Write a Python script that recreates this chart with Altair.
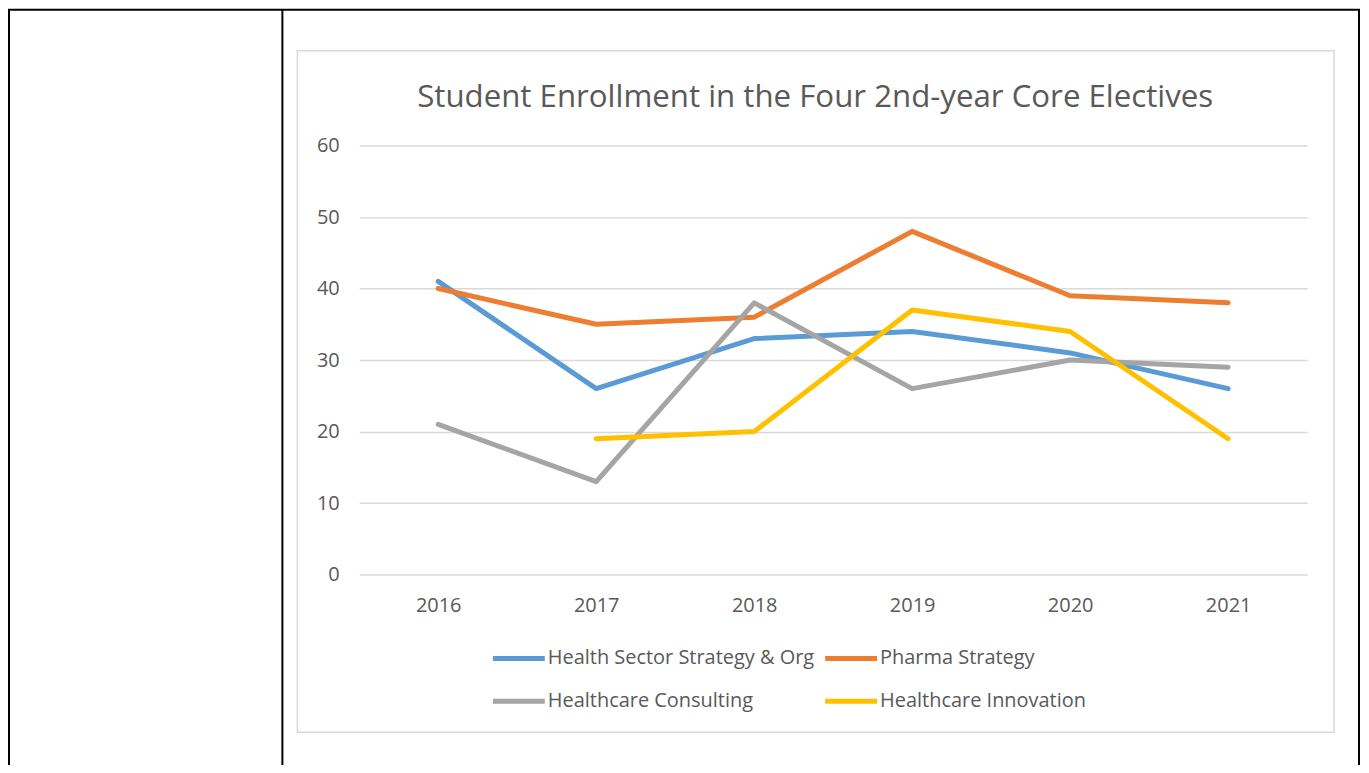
import altair as alt
import pandas as pd

years = ["2016", "2017", "2018", "2019", "2020", "2021"]
series_names = [
    "Health Sector Strategy & Org",
    "Pharma Strategy",
    "Healthcare Consulting",
    "Healthcare Innovation",
]
health_sector = [41, 26, 33, 34, 31, 26]
pharma = [40, 35, 36, 48, 39, 38]
consulting = [21, 13, 38, 26, 30, 29]
innovation = [None, 19, 20, 37, 34, 19]
colors = ["#5B9BD5", "#ED7D31", "#A5A5A5", "#FFC000"]
y_ticks = [0, 10, 20, 30, 40, 50, 60]
title_text = "Student Enrollment in the Four 2nd-year Core Electives"

rows = []
for name, vals in zip(series_names, [health_sector, pharma, consulting, innovation]):
    for yr, v in zip(years, vals):
        if v is not None:
            rows.append({"Year": yr, "Course": name, "Students": v})
df = pd.DataFrame(rows)

FONT = "Open Sans"
TXT = "#595959"
GRID = "#D9D9D9"

one = pd.DataFrame({"t": [title_text]})

# decorative frame (page/table borders and the chart box)
chart_box = alt.Chart(one).mark_rect(fill="transparent", stroke=GRID, strokeWidth=1.5).encode(
    x=alt.value(-62), x2=alt.value(977), y=alt.value(-95), y2=alt.value(588)
)
frame_left = alt.Chart(one).mark_rule(color="black", strokeWidth=2).encode(
    x=alt.value(-351), y=alt.value(-136), y2=alt.value(640)
)
frame_top = alt.Chart(one).mark_rule(color="black", strokeWidth=2).encode(
    x=alt.value(-352), x2=alt.value(1003), y=alt.value(-136)
)
frame_mid = alt.Chart(one).mark_rule(color="black", strokeWidth=2).encode(
    x=alt.value(-77), y=alt.value(-136), y2=alt.value(640)
)
frame_right = alt.Chart(one).mark_rule(color="black", strokeWidth=2).encode(
    x=alt.value(1002), y=alt.value(-136), y2=alt.value(640)
)

title = alt.Chart(one).mark_text(
    font=FONT, fontSize=31.3, color=TXT, align="center", baseline="alphabetic"
).encode(text="t:N", x=alt.value(457), y=alt.value(-39))

lines = alt.Chart(df).mark_line(strokeWidth=5, strokeCap="round", strokeJoin="round").encode(
    x=alt.X(
        "Year:N",
        sort=years,
        title=None,
        scale=alt.Scale(padding=0.5),
        axis=alt.Axis(
            labelAngle=0, domain=False, ticks=False, grid=False, labelPadding=21,
            labelFontSize=20, labelColor=TXT, labelFont=FONT,
        ),
    ),
    y=alt.Y(
        "Students:Q",
        scale=alt.Scale(domain=[0, 60], nice=False),
        title=None,
        axis=alt.Axis(
            values=y_ticks, grid=True, gridColor=GRID, gridWidth=1.5,
            domain=False, ticks=False, labelPadding=20,
            labelFontSize=20, labelColor=TXT, labelFont=FONT,
        ),
    ),
    color=alt.Color(
        "Course:N",
        scale=alt.Scale(domain=series_names, range=colors),
        sort=series_names,
        legend=alt.Legend(
            title=None, orient="none", legendX=150, legendY=504,
            direction="horizontal", columns=2, columnPadding=0, rowPadding=23,
            symbolType="M-5.2,0L5.2,0", symbolSize=100, symbolStrokeWidth=5,
            labelOffset=19, labelFontSize=20, labelColor=TXT, labelFont=FONT,
            labelLimit=0, padding=0,
        ),
    ),
    detail="Course:N",
)

chart = alt.layer(
    chart_box, frame_left, frame_top, frame_mid, frame_right, title, lines
).properties(
    width=950,
    height=430,
    padding={"left": 352, "top": 137, "right": 54, "bottom": 190},
    autosize=alt.AutoSizeParams(type="none"),
).configure(background="white", view=alt.ViewConfig(stroke=None, strokeWidth=0)).configure_axis(
    domain=False, grid=False
).configure_axisY(grid=True)

chart.save("out.html", embed_options={"renderer": "svg", "actions": False})
